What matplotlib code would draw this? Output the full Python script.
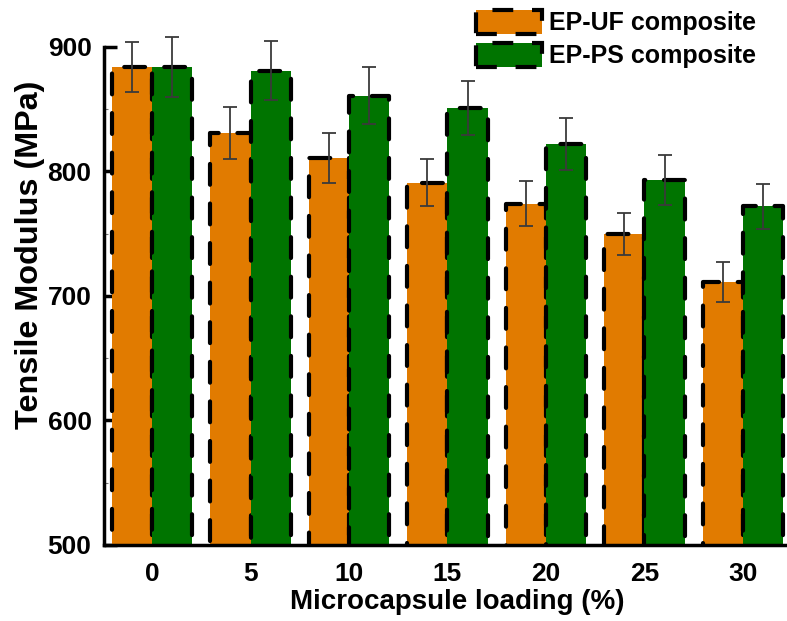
import numpy as np
import matplotlib
matplotlib.use("Agg")
import matplotlib.pyplot as plt
from matplotlib.ticker import MultipleLocator

plt.rcParams['font.family'] = ['Liberation Sans', 'DejaVu Sans']
plt.rcParams['font.weight'] = 'bold'

loading = ["0", "5", "10", "15", "20", "25", "30"]
uf_modulus = [884, 831, 811, 791, 774, 750, 711]
uf_error = [20, 21, 20, 19, 18, 17, 16]
ps_modulus = [884, 881, 861, 851, 822, 793, 772]
ps_error = [24, 24, 23, 22, 21, 20, 18]

orange = '#E17B00'
green = '#007400'

fig = plt.figure(figsize=(7.87, 6.21), dpi=100)
ax = fig.add_axes([0.1322, 0.1224, 0.8678, 0.8776])

x = np.arange(len(loading))
w = 0.41
edge_kw = dict(edgecolor='black', linewidth=3, linestyle=(0, (5, 4.5)),
               capstyle='round', joinstyle='round')
err_kw = dict(ecolor='#3a3a3a', elinewidth=1.3, capsize=5, capthick=1.3)

ax.bar(x - w / 2, uf_modulus, w, color=orange,
       label='EP-UF composite', zorder=2, **edge_kw)
ax.bar(x + w / 2, ps_modulus, w, color=green,
       label='EP-PS composite', zorder=2, **edge_kw)
ax.errorbar(x - w / 2, uf_modulus, yerr=uf_error, fmt='none', zorder=3, **err_kw)
ax.errorbar(x + w / 2, ps_modulus, yerr=ps_error, fmt='none', zorder=3, **err_kw)

ax.set_xlim(-0.487, 6.447)
ax.set_ylim(500, 937.7)
ax.set_xticks(x)
ax.set_xticklabels(loading)
ax.set_yticks([500, 600, 700, 800, 900])
ax.yaxis.set_minor_locator(MultipleLocator(50))

for side in ('top', 'right'):
    ax.spines[side].set_visible(False)
ax.spines['left'].set_bounds(500, 900)
ax.spines['left'].set_linewidth(2.5)
ax.spines['bottom'].set_linewidth(2.5)
ax.spines['left'].set_zorder(4)
ax.spines['bottom'].set_zorder(4)

ax.tick_params(axis='y', which='major', direction='in', length=9, width=2.5,
               labelsize=19, pad=9)
ax.tick_params(axis='y', which='minor', direction='in', length=3, width=0.8,
               color='#777777')
ax.tick_params(axis='x', length=0, labelsize=19, pad=12)
for lab in ax.get_xticklabels() + ax.get_yticklabels():
    lab.set_fontweight('bold')

ax.set_xlabel('Microcapsule loading (%)', fontsize=20, fontweight='bold')
ax.xaxis.set_label_coords(0.5168, -0.0807)
ax.set_ylabel('Tensile Modulus (MPa)', fontsize=23.3, fontweight='bold')
ax.yaxis.set_label_coords(-0.0864, (545 - 255) / 545)

leg = fig.legend(loc='upper left', bbox_to_anchor=(476 / 787, 1 - 10 / 621),
                 frameon=False, fontsize=18, handlelength=2.64, handleheight=1.08,
                 handletextpad=0.28, labelspacing=0.3, borderpad=0, borderaxespad=0)
for t in leg.get_texts():
    t.set_fontweight('bold')

fig.savefig('out.png', dpi=100)
